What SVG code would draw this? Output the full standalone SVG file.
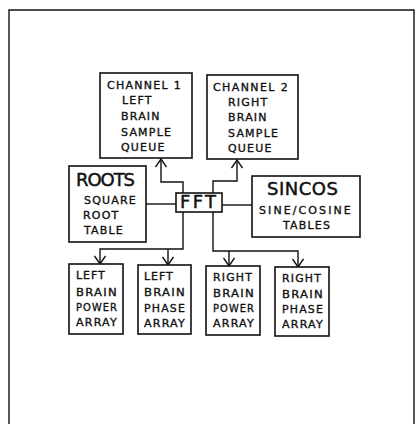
<svg xmlns="http://www.w3.org/2000/svg" width="417" height="424" viewBox="0 0 417 424">
<defs>
<style>
.box{fill:#fff;stroke:#111;stroke-width:1.6}
.ln{fill:none;stroke:#111;stroke-width:1.4}
.t{font-family:"DejaVu Sans","Liberation Sans",sans-serif;font-size:11px;fill:#111;stroke:#111;stroke-width:0.35;letter-spacing:1.2px}
.big{font-family:"DejaVu Sans","Liberation Sans",sans-serif;font-size:18px;fill:#111;stroke:#111;stroke-width:0.45;letter-spacing:1px}
</style>
<marker id="ah" viewBox="0 0 10 12" refX="9" refY="6" markerWidth="10" markerHeight="12" markerUnits="userSpaceOnUse" orient="auto">
<path d="M1,0.5 L9,6 L1,11.5" fill="none" stroke="#111" stroke-width="1.4"/>
</marker>
</defs>
<rect width="417" height="424" fill="#fff"/>
<path class="ln" d="M9,424 L9,10 L414,10 L414,424" stroke-width="1.6"/>
<g id="connectors">
<path class="ln" d="M183,193 L183,182 L161,182 L161,159" marker-end="url(#ah)"/>
<path class="ln" d="M213,193 L213,181 L237,181 L237,160" marker-end="url(#ah)"/>
<path class="ln" d="M146,204 L176,204"/>
<path class="ln" d="M222,205 L252,205"/>
<path class="ln" d="M183,212 L183,249 L100,249 L100,264" marker-end="url(#ah)"/>
<path class="ln" d="M168,249 L168,265" marker-end="url(#ah)"/>
<path class="ln" d="M213,212 L213,251 L298,251 L298,267" marker-end="url(#ah)"/>
<path class="ln" d="M229,251 L229,266" marker-end="url(#ah)"/>
</g>
<g id="channel1">
<rect class="box" x="100" y="73" width="92" height="85"/>
<text class="t" x="107" y="89" textLength="75">CHANNEL 1</text>
<text class="t" x="122" y="104">LEFT</text>
<text class="t" x="121" y="120">BRAIN</text>
<text class="t" x="121" y="136">SAMPLE</text>
<text class="t" x="121" y="151">QUEUE</text>
</g>
<g id="channel2">
<rect class="box" x="207" y="75" width="91" height="84"/>
<text class="t" x="213" y="91" textLength="76">CHANNEL 2</text>
<text class="t" x="228" y="106">RIGHT</text>
<text class="t" x="228" y="121">BRAIN</text>
<text class="t" x="228" y="137">SAMPLE</text>
<text class="t" x="228" y="152">QUEUE</text>
</g>
<g id="roots">
<rect class="box" x="69" y="166" width="77" height="76"/>
<text class="big" x="76" y="186" textLength="60">ROOTS</text>
<text class="t" x="84" y="204">SQUARE</text>
<text class="t" x="83" y="219">ROOT</text>
<text class="t" x="84" y="234">TABLE</text>
</g>
<g id="fft">
<rect class="box" x="176" y="193" width="46" height="19"/>
<text class="big" x="180" y="208" textLength="37">FFT</text>
</g>
<g id="sincos">
<rect class="box" x="252" y="176" width="108" height="61"/>
<text class="big" x="267" y="195" textLength="72">SINCOS</text>
<text class="t" x="259" y="214" textLength="93">SINE/COSINE</text>
<text class="t" x="283" y="229">TABLES</text>
</g>
<g id="lbpower">
<rect class="box" x="69" y="264" width="54" height="70"/>
<text class="t" x="76" y="279" textLength="30">LEFT</text>
<text class="t" x="76" y="296" textLength="42" lengthAdjust="spacingAndGlyphs">BRAIN</text>
<text class="t" x="76" y="311" textLength="42" lengthAdjust="spacingAndGlyphs">POWER</text>
<text class="t" x="76" y="326" textLength="42" lengthAdjust="spacingAndGlyphs">ARRAY</text>
</g>
<g id="lbphase">
<rect class="box" x="138" y="265" width="53" height="69"/>
<text class="t" x="144" y="280" textLength="30">LEFT</text>
<text class="t" x="144" y="296" textLength="42" lengthAdjust="spacingAndGlyphs">BRAIN</text>
<text class="t" x="144" y="312" textLength="42" lengthAdjust="spacingAndGlyphs">PHASE</text>
<text class="t" x="144" y="327" textLength="42" lengthAdjust="spacingAndGlyphs">ARRAY</text>
</g>
<g id="rbpower">
<rect class="box" x="206" y="266" width="54" height="69"/>
<text class="t" x="213" y="281" textLength="40" lengthAdjust="spacingAndGlyphs">RIGHT</text>
<text class="t" x="213" y="297" textLength="42" lengthAdjust="spacingAndGlyphs">BRAIN</text>
<text class="t" x="213" y="312" textLength="42" lengthAdjust="spacingAndGlyphs">POWER</text>
<text class="t" x="213" y="327" textLength="42" lengthAdjust="spacingAndGlyphs">ARRAY</text>
</g>
<g id="rbphase">
<rect class="box" x="275" y="267" width="54" height="69"/>
<text class="t" x="282" y="282" textLength="40" lengthAdjust="spacingAndGlyphs">RIGHT</text>
<text class="t" x="282" y="298" textLength="42" lengthAdjust="spacingAndGlyphs">BRAIN</text>
<text class="t" x="282" y="313" textLength="42" lengthAdjust="spacingAndGlyphs">PHASE</text>
<text class="t" x="282" y="328" textLength="42" lengthAdjust="spacingAndGlyphs">ARRAY</text>
</g>
</svg>
